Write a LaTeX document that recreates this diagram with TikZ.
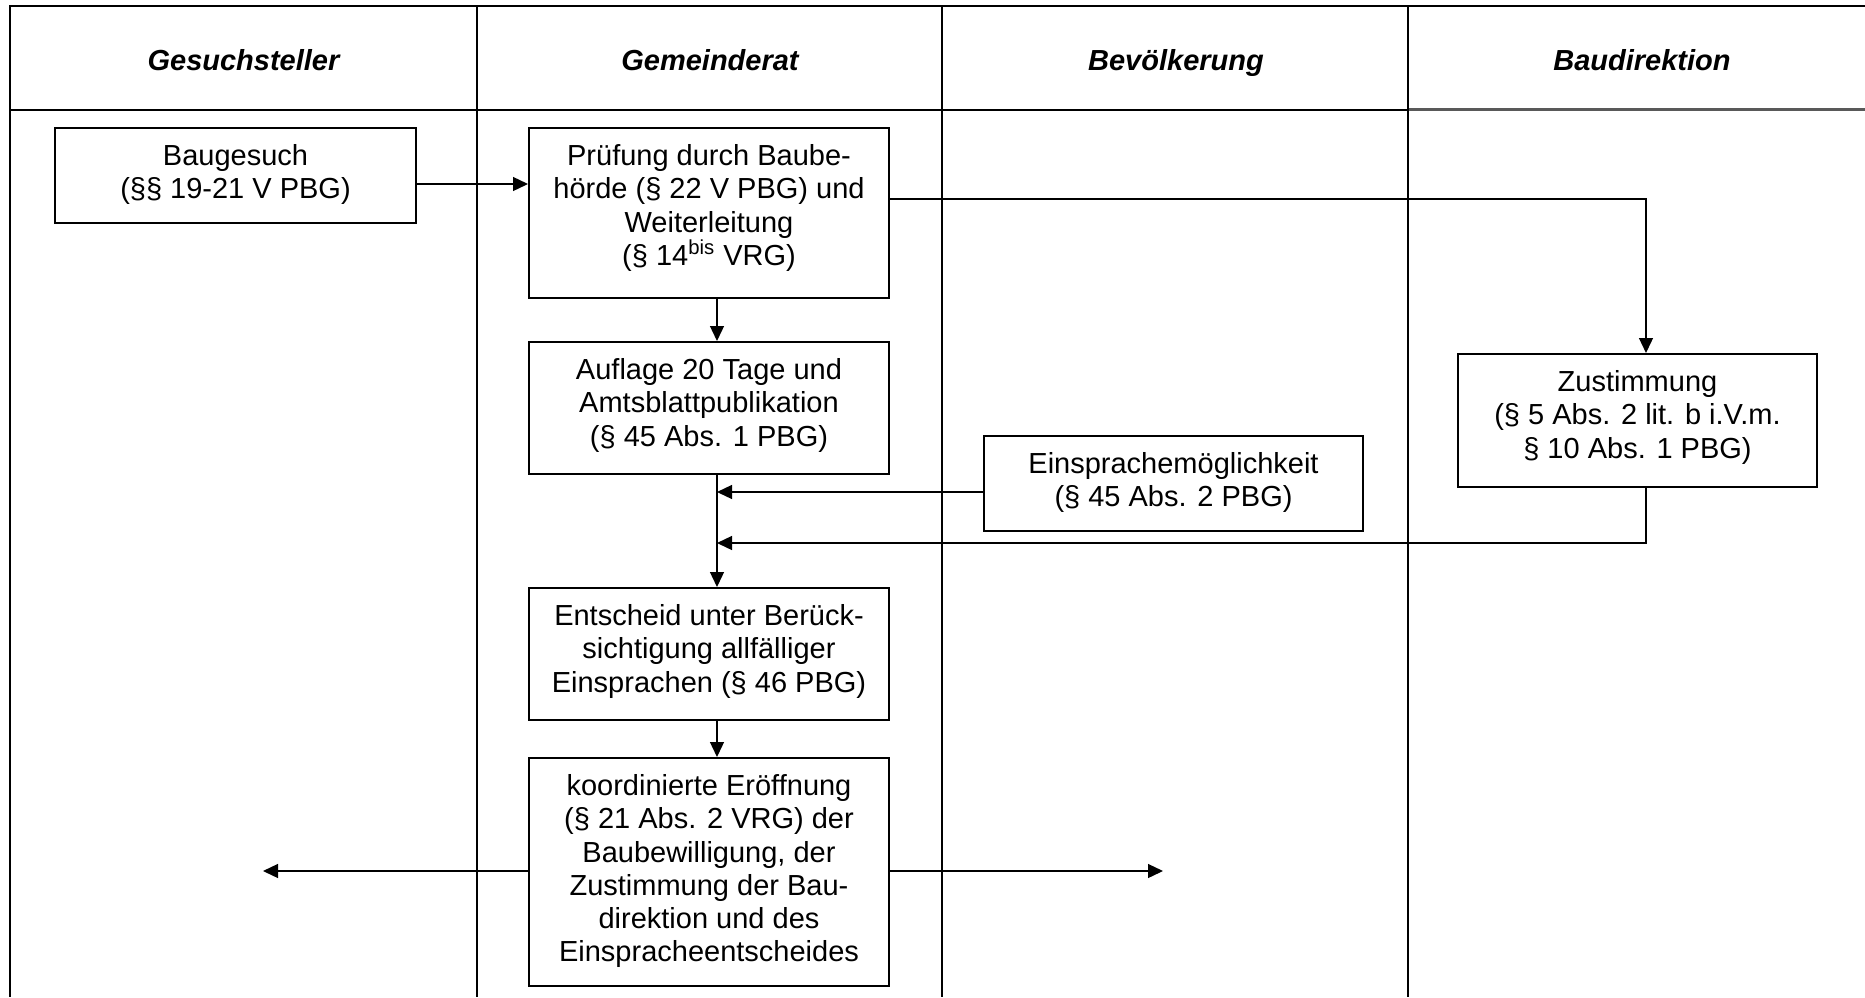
\documentclass[tikz,border=0pt]{standalone}
\usepackage{fontspec}
\setmainfont{Liberation Sans}
\usetikzlibrary{arrows.meta}
\newcommand\bodyfnt{\fontsize{14.5pt}{16.65pt}\selectfont}
\newcommand\headfnt{\fontsize{14.5pt}{16.65pt}\selectfont\bfseries\itshape}
\newcommand\firststrut{\rule{0pt}{11.65pt}}
\tikzset{
  frameline/.style={line width=1.2pt},
  boxnode/.style={draw, line width=1pt, rectangle, inner sep=0pt, anchor=north west},
  txtnode/.style={anchor=north, inner sep=0pt, align=center, font=\bodyfnt},
  conn/.style={line width=0.65pt},
  arr/.style={conn, -{Triangle[length=7.5pt,width=7pt]}},
  headnode/.style={anchor=base, inner sep=0pt, font=\headfnt},
}
\begin{document}
\begin{tikzpicture}[x=0.5pt,y=-0.5pt]
\useasboundingbox (0,0) rectangle (1865,997);
% frame
\draw[frameline] (1865,6) -- (10,6) -- (10,997);
\draw[frameline] (10,110) -- (1408,110);
\draw[frameline, black!65] (1408,109.5) -- (1865,109.5);
\foreach \xx in {477,942,1408} \draw[frameline] (\xx,6) -- (\xx,997);
% headers
\node[headnode] (h1) at (243.5,70) {Gesuchsteller};
\node[headnode] (h2) at (710,70) {Gemeinderat};
\node[headnode] (h3) at (1176,70) {Bevölkerung};
\node[headnode] (h4) at (1642,70) {Baudirektion};
% boxes
\node[boxnode, minimum width=180.5pt, minimum height=47.5pt] (bau) at (54,127) {};
\node[boxnode, minimum width=180pt, minimum height=85pt] (pruef) at (528,127) {};
\node[boxnode, minimum width=180pt, minimum height=66pt] (auf) at (528,341) {};
\node[boxnode, minimum width=189.5pt, minimum height=47.5pt] (eins) at (983,435) {};
\node[boxnode, minimum width=179.5pt, minimum height=66.5pt] (zust) at (1457,353) {};
\node[boxnode, minimum width=180pt, minimum height=66pt] (ent) at (528,587) {};
\node[boxnode, minimum width=180pt, minimum height=114pt] (koord) at (528,757) {};
% texts
\node[txtnode] (baut) at ([yshift=-7.35pt]bau.north) {\firststrut Baugesuch\\(§§ 19-21 V PBG)};
\node[txtnode] (prueft) at ([yshift=-7.35pt]pruef.north) {\firststrut Prüfung durch Baube-\\hörde (§ 22 V PBG) und\\Weiterleitung\\(§ 14\textsuperscript{bis} VRG)};
\node[txtnode] (auft) at ([yshift=-7.35pt]auf.north) {\firststrut Auflage 20 Tage und\\Amtsblattpublikation\\(§ 45 Abs. 1 PBG)};
\node[txtnode] (einst) at ([yshift=-7.35pt]eins.north) {\firststrut Einsprachemöglichkeit\\(§ 45 Abs. 2 PBG)};
\node[txtnode] (zustt) at ([yshift=-7.35pt]zust.north) {\firststrut Zustimmung\\(§ 5 Abs. 2 lit. b i.V.m.\\§ 10 Abs. 1 PBG)};
\node[txtnode] (entt) at ([yshift=-7.35pt]ent.north) {\firststrut Entscheid unter Berück-\\sichtigung allfälliger\\Einsprachen (§ 46 PBG)};
\node[txtnode] (koordt) at ([yshift=-7.35pt]koord.north) {\firststrut koordinierte Eröffnung\\(§ 21 Abs. 2 VRG) der\\Baubewilligung, der\\Zustimmung der Bau-\\direktion und des\\Einspracheentscheides};
% helper coordinates
\coordinate (ya) at (0,184);
\coordinate (yb) at (0,199);
\coordinate (yc) at (0,492);
\coordinate (yd) at (0,543);
\coordinate (xm) at (717,0);
\coordinate (xz) at (1646,0);
\coordinate (lend) at (263,871);
\coordinate (rend) at (1163,871);
% connectors
\draw[arr] (bau.east |- ya) -- (pruef.west |- ya);
\draw[arr] (pruef.east |- yb) -| (zust.north -| xz);
\draw[arr] (pruef.south -| xm) -- (auf.north -| xm);
\draw[arr] (auf.south -| xm) -- (ent.north -| xm);
\draw[arr] (eins.west |- yc) -- (xm |- yc);
\draw[arr] (zust.south -| xz) |- (xm |- yd);
\draw[arr] (ent.south -| xm) -- (koord.north -| xm);
\draw[arr] (koord.west |- lend) -- (lend);
\draw[arr] (koord.east |- rend) -- (rend);
\end{tikzpicture}
\end{document}
